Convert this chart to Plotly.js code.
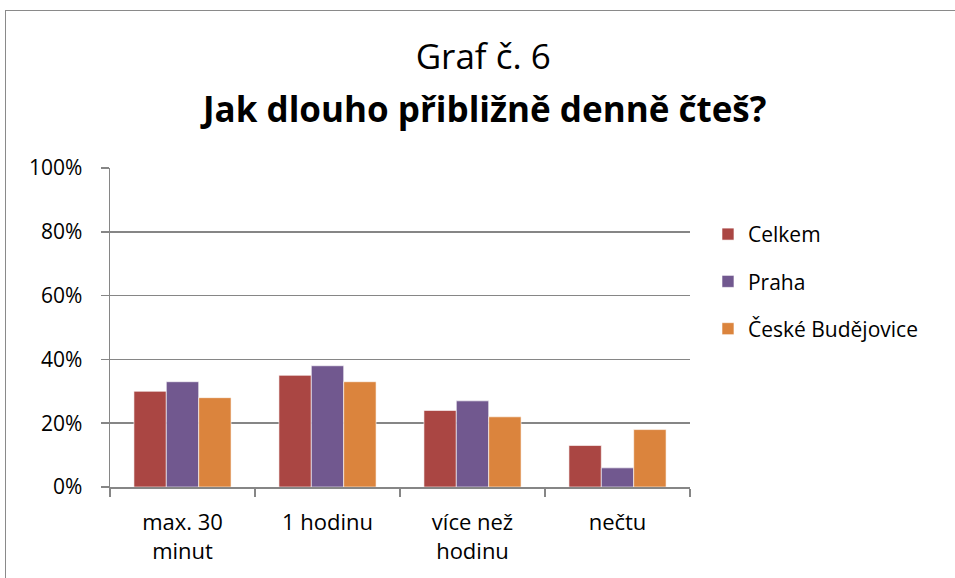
<!DOCTYPE html>
<html>
<head>
<meta charset="utf-8">
<script src="https://cdn.plot.ly/plotly-3.0.1.min.js"></script>
<style>
  html, body { margin: 0; padding: 0; background: #ffffff; overflow: hidden; }
  #chart { position: absolute; left: 0; top: 0; width: 955px; height: 578px; }
  #frame { position: absolute; left: 5px; top: 10px; width: 970px; height: 600px;
           border: 1.5px solid #8a8a8a; pointer-events: none; box-sizing: border-box; }
</style>
</head>
<body>
<div id="chart"></div>
<div id="frame"></div>
<script>
const categories = ["max. 30<br>minut", "1 hodinu", "více než<br>hodinu", "nečtu"];
const seriesNames = ["Celkem", "Praha", "České Budějovice"];
const celkem = [0.30, 0.35, 0.24, 0.13];
const praha = [0.33, 0.38, 0.27, 0.06];
const ceskeBudejovice = [0.28, 0.33, 0.22, 0.18];
const yTickVals = [0, 0.2, 0.4, 0.6, 0.8, 1.0];
const yTickText = ["0%", "20%", "40%", "60%", "80%", "100%"];
const colors = ["#AA4643", "#71588F", "#DB843D"];

const FONT = "Open Sans, Noto Sans, sans-serif";
const values = [celkem, praha, ceskeBudejovice];

const traces = values.map((v, i) => ({
  type: "bar",
  name: seriesNames[i],
  x: categories,
  y: v,
  legendgroup: "g" + i,
  marker: { color: colors[i], line: { color: "rgba(255,255,255,0.6)", width: 1 } },
  hoverinfo: "skip"
}));

const layout = {
  width: 955,
  height: 578,
  paper_bgcolor: "#ffffff",
  plot_bgcolor: "#ffffff",
  margin: { l: 110, r: 265, t: 168, b: 91, pad: 0 },
  barmode: "group",
  bargap: 0.33,
  bargroupgap: 0,
  font: { family: FONT, size: 21, color: "#000000" },
  title: {
    text: "Graf č. 6",
    font: { family: FONT, size: 35, color: "#000000" },
    x: 0.506, xref: "container", xanchor: "center",
    y: 0.901, yref: "container", yanchor: "middle"
  },
  annotations: [{
    text: "<b>Jak dlouho přibližně denně čteš?</b>",
    xref: "paper", yref: "paper",
    x: 0.643, y: 1.185, xanchor: "center", yanchor: "middle",
    showarrow: false,
    font: { family: FONT, size: 35, color: "#000000" }
  }],
  xaxis: {
    type: "category",
    showgrid: false,
    showline: true,
    linecolor: "#868686",
    linewidth: 1.5,
    ticks: "outside",
    tickson: "boundaries",
    ticklen: 8,
    tickcolor: "#868686",
    tickwidth: 1.5,
    ticklabelstandoff: 15,
    tickfont: { family: FONT, size: 22, color: "#000000" },
    fixedrange: true
  },
  yaxis: {
    range: [0, 1],
    tickvals: yTickVals,
    ticktext: yTickText,
    showgrid: true,
    gridcolor: "#868686",
    gridwidth: 1.5,
    showline: true,
    linecolor: "#868686",
    linewidth: 1.5,
    ticks: "outside",
    ticklen: 8,
    tickcolor: "#868686",
    tickwidth: 1.5,
    ticklabelstandoff: 14,
    zeroline: false,
    tickfont: { family: FONT, size: 21, color: "#000000" },
    fixedrange: true
  },
  legend: {
    x: 1.031, xanchor: "left",
    y: 0.856, yanchor: "top",
    tracegroupgap: 17,
    font: { family: FONT, size: 21, color: "#000000" },
    bgcolor: "rgba(0,0,0,0)"
  },
  showlegend: true
};

Plotly.newPlot("chart", traces, layout, { displayModeBar: false, staticPlot: true });
</script>
</body>
</html>
